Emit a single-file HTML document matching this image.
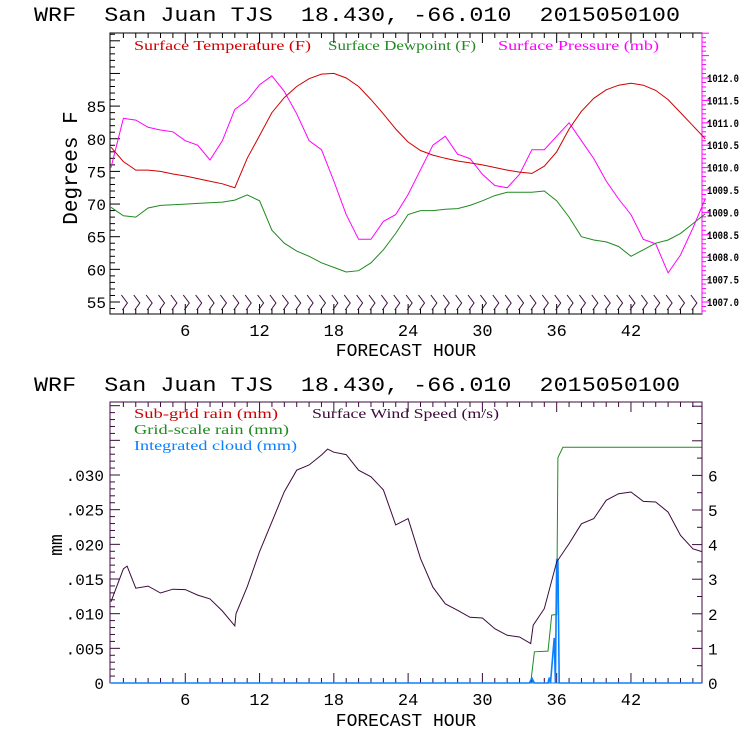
<!DOCTYPE html>
<html><head><meta charset="utf-8"><style>
html,body{margin:0;padding:0;background:#fff;}
svg{display:block;}
.t{font-family:"Liberation Mono",monospace;fill:#000;white-space:pre;}
.s{font-family:"Liberation Serif",serif;font-size:14px;}
</style></head><body>
<svg id="c" width="740" height="740" xmlns="http://www.w3.org/2000/svg">
<rect width="740" height="740" fill="#fff"/>
<text class="t" x="34" y="21" font-size="20" textLength="646" lengthAdjust="spacingAndGlyphs" xml:space="preserve">WRF  San Juan TJS  18.430, -66.010  2015050100</text>
<text class="t" x="34" y="391" font-size="20" textLength="646" lengthAdjust="spacingAndGlyphs" xml:space="preserve">WRF  San Juan TJS  18.430, -66.010  2015050100</text>
<text class="s" x="134" y="50" fill="#d00000" textLength="177" lengthAdjust="spacingAndGlyphs">Surface Temperature (F)</text>
<text class="s" x="328" y="50" fill="#208a20" textLength="148" lengthAdjust="spacingAndGlyphs">Surface Dewpoint (F)</text>
<text class="s" x="498" y="50" fill="#ff00ff" textLength="161" lengthAdjust="spacingAndGlyphs">Surface Pressure (mb)</text>
<text class="s" x="134" y="418" fill="#d00000" textLength="144" lengthAdjust="spacingAndGlyphs">Sub-grid rain (mm)</text>
<text class="s" x="312" y="418" fill="#3c0a3c" textLength="187" lengthAdjust="spacingAndGlyphs">Surface Wind Speed (m/s)</text>
<text class="s" x="134" y="434" fill="#208a20" textLength="155" lengthAdjust="spacingAndGlyphs">Grid-scale rain (mm)</text>
<text class="s" x="134" y="450" fill="#0a80ff" textLength="163" lengthAdjust="spacingAndGlyphs">Integrated cloud (mm)</text>
<text class="t" x="0" y="0" font-size="21" transform="translate(77,168) rotate(-90)" text-anchor="middle">Degrees F</text>
<text class="t" x="0" y="0" font-size="18" transform="translate(62,545) rotate(-90)" text-anchor="middle">mm</text>
<text class="t" x="406" y="356" font-size="18" text-anchor="middle">FORECAST HOUR</text>
<text class="t" x="406" y="726" font-size="18" text-anchor="middle">FORECAST HOUR</text>
<g id="g"></g>
</svg>
<script>
const tempF=[78.7,76.5,75.2,75.2,75,74.6,74.3,73.9,73.5,73.1,72.5,77,80.5,84,86.3,88,89.2,89.9,90,89.3,88,86,83.8,81.5,79.5,78.2,77.5,77,76.6,76.3,76,75.6,75.2,74.9,74.7,75.8,78,81.5,84.2,86.2,87.5,88.2,88.5,88.2,87.4,86,84,82,80];
const dewF=[69.5,68.2,68,69.4,69.8,69.9,70,70.1,70.2,70.3,70.6,71.4,70.5,66,64,62.8,62,61,60.3,59.6,59.8,61,63,65.5,68.4,69,69,69.2,69.3,69.8,70.5,71.3,71.8,71.8,71.8,72,70.5,68,65,64.5,64.2,63.5,62,63,64,64.5,65.5,67,68.5];
const presMb=[1010.0,1011.1,1011.06,1010.9,1010.84,1010.8,1010.6,1010.5,1010.17,1010.6,1011.3,1011.5,1011.85,1012.05,1011.7,1011.2,1010.6,1010.4,1009.7,1008.95,1008.4,1008.4,1008.8,1008.95,1009.4,1009.95,1010.5,1010.7,1010.3,1010.2,1009.85,1009.6,1009.55,1009.85,1010.4,1010.4,1010.7,1011.0,1010.6,1010.2,1009.7,1009.3,1008.95,1008.4,1008.3,1007.65,1008.05,1008.65,1009.3];
const windHours=[0,1,1.3,2,3,4,5,6,7,8,9,10,10.1,11,12,13,14,15,16,17,17.5,18,19,20,21,22,23,24,25,26,27,28,29,30,31,32,33,33.9,34.1,35,36,37,38,39,40,41,42,43,44,45,46,47,47.7];
const windMs=[2.35,3.3,3.38,2.74,2.8,2.6,2.71,2.7,2.54,2.43,2.08,1.65,2.0,2.78,3.8,4.66,5.53,6.15,6.3,6.59,6.76,6.67,6.6,6.15,5.96,5.58,4.57,4.75,3.6,2.77,2.29,2.1,1.9,1.88,1.57,1.38,1.33,1.14,1.67,2.15,3.5,4.03,4.6,4.75,5.28,5.47,5.52,5.25,5.23,4.94,4.27,3.88,3.8];
const gsHours=[0,33.9,34.2,35.3,35.6,36.0,36.1,36.5,47.7];
const gsRainMm=[0,0,0.0045,0.0046,0.0098,0.0099,0.0325,0.034,0.034];
const cloudHours=[0,33.8,34,34.2,35.3,35.4,35.5,35.8,35.9,36.0,36.1,36.2,47.7];
const cloudMm=[0,0,0.0007,0,0,0.0008,0,0.0065,0,0.0178,0.0178,0,0];
const xTicks=[6,12,18,24,30,36,42];
const tLabels=[55,60,65,70,75,80,85];
const pLabels=["1007.0","1007.5","1008.0","1008.5","1009.0","1009.5","1010.0","1010.5","1011.0","1011.5","1012.0"];
const mmLabels=["0",".005",".010",".015",".020",".025",".030"];
const wsLabels=[0,1,2,3,4,5,6];

const NS="http://www.w3.org/2000/svg",G=document.getElementById('g');
const L=110,R=702,T1=33,B1=314,T2=402,B2=683;
const X=h=>111+12.38*h;
const YT=v=>302-(v-55)*6.53;
const YP=p=>302-(p-1007)*44.8;
const YM=m=>683-m*6933;
const YW=w=>683-w*34.6;
function el(tag,a,name){const e=document.createElementNS(NS,tag);for(const k in a)e.setAttribute(k,a[k]);G.appendChild(e);


return e;}
function line(x1,y1,x2,y2,c,name){return el('line',{x1,y1,x2,y2,stroke:c,'stroke-width':1},name);}
function txt(x,y,s,size,anchor,name,extra){const a={x,y,'font-size':size,'text-anchor':anchor,'font-family':'"Liberation Mono",monospace'};if(extra)Object.assign(a,extra);const t=el('text',a,name);t.textContent=s;return t;}
function poly(xs,ys,c,name,w){const pts=xs.map((x,i)=>x.toFixed(1)+','+ys[i].toFixed(1)).join(' ');return el('polyline',{points:pts,fill:'none',stroke:c,'stroke-width':w||1},name);}

el('rect',{x:L,y:T1,width:R-L,height:B1-T1,fill:'none',stroke:'#000'},'top-plot-frame');
line(R,T1,R,B1,'#ff00ff','pressure-axis');
el('rect',{x:L,y:T2,width:R-L,height:B2-T2,fill:'none',stroke:'#3c0a3c'},'bottom-plot-frame');
for(let h=1;h<48;h++){const big=h%6===0,len=big?10:5;
 line(X(h),B1,X(h),B1-len,'#000','top-x-tick');line(X(h),T1,X(h),T1+len,'#000','top-x-tick-upper');
 line(X(h),B2,X(h),B2-len,'#3c0a3c','bottom-x-tick');line(X(h),T2,X(h),T2+len,'#3c0a3c','bottom-x-tick-upper');}
xTicks.forEach(h=>{txt(X(h),336,String(h),17,'middle','top-x-tick-label');txt(X(h),705,String(h),17,'middle','bottom-x-tick-label');});
for(let v=54;v<=101;v++){const y=YT(v);if(y<T1||y>B1)continue;line(L,y,L+(v%5===0?10:5),y,'#000','temp-tick');}
tLabels.forEach(v=>txt(106,YT(v)+6,String(v),16,'end','temp-tick-label'));
for(let i=-6;i<=60;i++){const p=1007+i*0.1,y=YP(p);if(y<T1||y>B1)continue;line(R,y,R+(i%5===0?7:4),y,'#ff00ff','pressure-tick');}
pLabels.forEach(p=>txt(707,YP(+p)+4,p,11,'start','pressure-tick-label',{textLength:32,lengthAdjust:'spacingAndGlyphs','font-weight':'bold'}));
for(let i=0;i<=40;i++){const m=i*0.001,y=YM(m);if(y<T2)break;line(L,y,L+(i%5===0?10:5),y,'#3c0a3c','mm-tick');}
mmLabels.forEach(s=>txt(104,YM(+s)+6,s,16,'end','mm-tick-label'));
for(let i=0;i<=16;i++){const w=i*0.5,y=YW(w);if(y<T2)break;line(R,y,R-(i%2===0?10:5),y,'#3c0a3c','wind-tick');}
wsLabels.forEach(w=>txt(708,YW(w)+6,String(w),16,'start','wind-tick-label'));
const hrs=tempF.map((_,i)=>i);
const ph=presMb.map((_,i)=>i);
poly(hrs.map(X),dewF.map(YT),'#208a20','dewpoint-line');
poly(ph.map(X),presMb.map(YP),'#ff00ff','pressure-line');
poly(hrs.map(X),tempF.map(YT),'#d00000','temperature-line');
for(let h=1;h<48;h++){const x=X(h)-2;el('polyline',{points:`${x},295 ${x+6},303 ${x+1},310`,fill:'none',stroke:'#3c0a3c','stroke-width':1},'wind-barb');}
poly(gsHours.map(X),gsRainMm.map(YM),'#208a20','gridscale-rain-line');
poly(cloudHours.map(X),cloudMm.map(YM),'#0a80ff','integrated-cloud-line',1.6);
line(L,B2,R,B2,'#0a80ff','subgrid-rain-line');
poly(windHours.map(X),windMs.map(YW),'#3c0a3c','wind-speed-line');
</script>
</body></html>
